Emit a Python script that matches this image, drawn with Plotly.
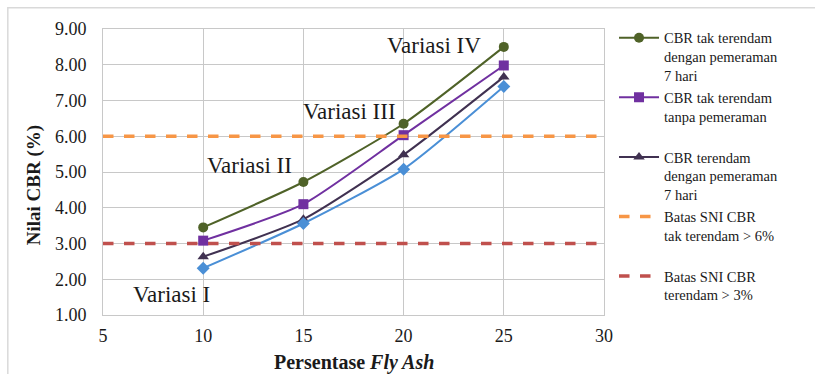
import plotly.graph_objects as go

fly_ash = [10, 15, 20, 25]
cbr_tak_terendam_peram = [3.45, 4.72, 6.35, 8.50]
cbr_tak_terendam_tanpa = [3.08, 4.10, 6.03, 7.98]
cbr_terendam_peram = [2.63, 3.68, 5.48, 7.66]
cbr_terendam_tanpa = [2.31, 3.56, 5.08, 7.39]
batas_x = [5, 30]
batas_tak_terendam = [6.0, 6.0]
batas_terendam = [3.0, 3.0]

var_labels = ["Variasi I", "Variasi II", "Variasi III", "Variasi IV"]
var_x = [8.4, 12.3, 17.3, 21.5]
var_y = [1.56, 5.17, 6.68, 8.55]

FONT = "Liberation Serif"

fig = go.Figure()

fig.add_trace(go.Scatter(
    x=fly_ash, y=cbr_tak_terendam_peram, mode="lines+markers",
    line=dict(color="#4F6228", width=2, shape="spline", smoothing=0.6),
    marker=dict(symbol="circle", size=10, color="#4F6228"),
    name="CBR tak terendam<br>dengan pemeraman<br>7 hari", legendgroup="a"))
fig.add_trace(go.Scatter(
    x=fly_ash, y=cbr_tak_terendam_tanpa, mode="lines+markers",
    line=dict(color="#7030A0", width=2, shape="spline", smoothing=0.6),
    marker=dict(symbol="square", size=10, color="#7030A0"),
    name="CBR tak terendam<br>tanpa pemeraman<br> ", legendgroup="b"))
fig.add_trace(go.Scatter(
    x=fly_ash, y=cbr_terendam_peram, mode="lines+markers",
    line=dict(color="#403151", width=2, shape="spline", smoothing=0.6),
    marker=dict(symbol="triangle-up", size=10, color="#403151"),
    name="CBR terendam<br>dengan pemeraman<br>7 hari", legendgroup="c"))
fig.add_trace(go.Scatter(
    x=fly_ash, y=cbr_terendam_tanpa, mode="lines+markers",
    line=dict(color="#4A8FD6", width=2, shape="spline", smoothing=0.6),
    marker=dict(symbol="diamond", size=10, color="#4A8FD6"),
    name="CBR terendam tanpa pemeraman", showlegend=False))
fig.add_trace(go.Scatter(
    x=batas_x, y=batas_tak_terendam, mode="lines",
    line=dict(color="#F79646", width=3.5, dash="dash"),
    name="Batas SNI CBR<br>tak terendam > 6%<br> ", legendgroup="d"))
fig.add_trace(go.Scatter(
    x=batas_x, y=batas_terendam, mode="lines",
    line=dict(color="#C0504D", width=3.5, dash="dash"),
    name="Batas SNI CBR<br>terendam > 3%", legendgroup="e"))

for t, xx, yy in zip(var_labels, var_x, var_y):
    fig.add_annotation(x=xx, y=yy, text=t, showarrow=False,
                       font=dict(family=FONT, size=23, color="#1a1a1a"))

fig.add_annotation(xref="paper", yref="paper", x=-0.163, y=0.455,
                   text="<b>Nilai CBR (%)</b>", textangle=-90, showarrow=False,
                   font=dict(family=FONT, size=19, color="#1a1a1a"))
fig.add_annotation(xref="paper", yref="paper", x=0.5, y=-0.165, yanchor="middle",
                   text="<b>Persentase <i>Fly Ash</i></b>", showarrow=False,
                   font=dict(family=FONT, size=20, color="#1a1a1a"))

fig.update_layout(
    width=815, height=374,
    margin=dict(l=103, r=211, t=29, b=59, autoexpand=False),
    paper_bgcolor="white", plot_bgcolor="white",
    font=dict(family=FONT, size=18, color="#1a1a1a"),
    showlegend=True,
    legend=dict(x=1.02, xanchor="left", y=1.025, yanchor="top",
                font=dict(family=FONT, size=14.5, color="#1a1a1a"),
                valign="top", traceorder="grouped", tracegroupgap=0,
                itemwidth=40, bgcolor="rgba(0,0,0,0)", maxheight=400),
    shapes=[dict(type="rect", xref="paper", yref="paper",
                 x0=-0.19, x1=1.45, y0=-0.5, y1=1.074,
                 line=dict(color="#D9D9D9", width=1.5), layer="below")],
)

fig.update_xaxes(range=[5, 30], tickvals=[5, 10, 15, 20, 25, 30],
                 showgrid=True, gridcolor="#C8C8C8", gridwidth=1,
                 showline=True, linecolor="#C8C8C8", mirror=True,
                 zeroline=False, ticks="", tickfont=dict(family=FONT, size=18),
                 ticklabelstandoff=4, automargin=False)
fig.update_yaxes(range=[1, 9], tickvals=[1, 2, 3, 4, 5, 6, 7, 8, 9],
                 tickformat=".2f",
                 showgrid=True, gridcolor="#C8C8C8", gridwidth=1,
                 showline=True, linecolor="#C8C8C8", mirror=True,
                 zeroline=False, ticks="", tickfont=dict(family=FONT, size=18),
                 ticklabelstandoff=12, automargin=False)

fig.write_html("out.html")
